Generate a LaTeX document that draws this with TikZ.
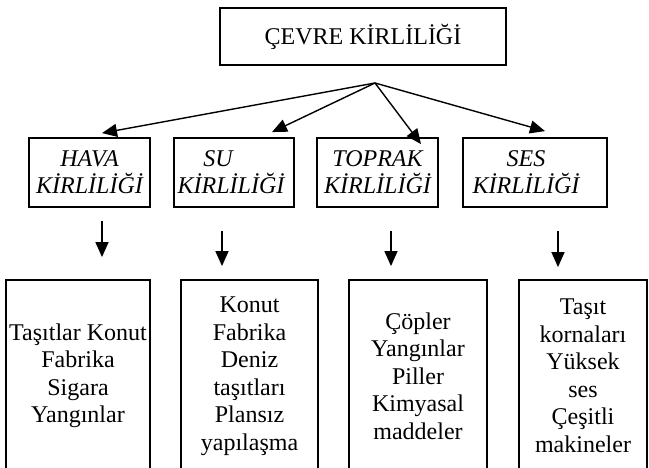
\documentclass[tikz,border=0pt]{standalone}
\usepackage{fontspec}
\setmainfont{Liberation Serif}
\usepackage{tikz}
\usetikzlibrary{arrows.meta,positioning,calc}

\begin{document}
\begin{tikzpicture}[x=1pt,y=-1pt,
		box/.style={draw, line width=1.8pt, inner sep=0pt, align=center, font=\fontsize{24}{27.5}\selectfont},
		kbox/.style={box, minimum width=121pt, minimum height=69pt, font=\fontsize{24}{27}\selectfont\itshape},
		lbox/.style={box, minimum height=192pt},
		arr/.style={line width=1.4pt, -{Triangle[width=13pt,length=15pt]}}]
		\useasboundingbox (0,0) rectangle (649,468);
		\clip (0,0) rectangle (649,468);
		\node[box, minimum width=286pt, minimum height=57pt] (cevre) at (363,36.5) {ÇEVRE KİRLİLİĞİ};
		\coordinate (fan) at (375,83);
		\node[kbox] (hava) at (89.5,172.5) {HAVA\\KİRLİLİĞİ};
		\node[kbox, minimum width=120pt] (su) at (234,172.5) {SU\hspace*{32pt}\\KİRLİLİĞİ\hspace*{6pt}};
		\node[kbox] (toprak) at (377.5,172.5) {TOPRAK\\KİRLİLİĞİ};
		\node[kbox, minimum width=144pt] (ses) at (535,172.5) {SES\hspace*{18pt}\\KİRLİLİĞİ\hspace*{18pt}};
		\node[lbox, minimum width=144pt] (b1) at (78,376) {Taşıtlar Konut\\Fabrika\\Sigara\\Yangınlar};
		\node[lbox, minimum width=137pt] (b2) at (249.5,376) {Konut\\Fabrika\\Deniz\\taşıtları\\Plansız\\yapılaşma};
		\node[lbox, minimum width=138pt] (b3) at (418,376) {Çöpler\\Yangınlar\\Piller\\Kimyasal\\maddeler};
		\node[lbox, minimum width=128pt] (b4) at (583,376) {Taşıt\\kornaları\\Yüksek\\ses\\Çeşitli\\makineler};
		\draw[arr] (fan) -- ([xshift=12.5pt,yshift=4pt]hava.north);
		\draw[arr] (fan) -- ([xshift=38pt,yshift=5pt]su.north);
		\draw[arr] (fan) -- ([xshift=43.5pt,yshift=-7pt]toprak.north);
		\draw[arr] (fan) -- ([xshift=10pt,yshift=6pt]ses.north);
		\draw[arr] ([xshift=12.5pt,yshift=-13pt]hava.south) -- ([xshift=24pt,yshift=22pt]b1.north);
		\draw[arr] ([xshift=-12pt,yshift=-23pt]su.south) -- ([xshift=-27.5pt,yshift=13pt]b2.north);
		\draw[arr] ([xshift=13.5pt,yshift=-23pt]toprak.south) -- ([xshift=-27pt,yshift=13pt]b3.north);
		\draw[arr] ([xshift=23pt,yshift=-23pt]ses.south) -- ([xshift=-25pt,yshift=12pt]b4.north);
	\end{tikzpicture}
\end{document}
